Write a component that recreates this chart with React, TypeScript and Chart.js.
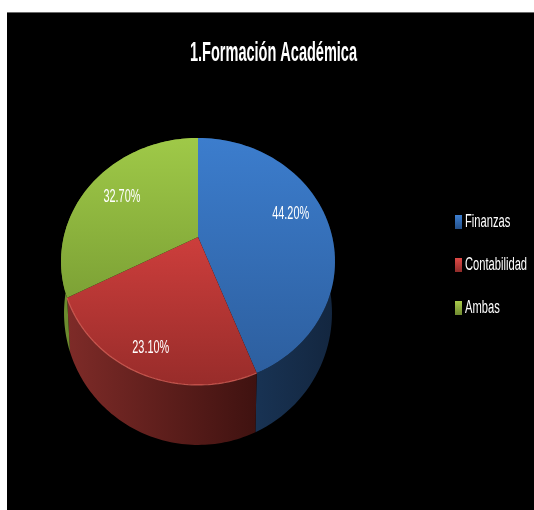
import React, { useEffect, useRef } from "react";
import { ArcElement, Chart, PieController, registerables } from "chart.js";

const categories = ["Finanzas", "Contabilidad", "Ambas"];
const shares = [44.2, 23.1, 32.7];
const faceTop = ["#3c7dcd", "#f04a48", "#9fc948"];
const faceBottom = ["#2c5d9c", "#982c2a", "#6a8c2b"];
const wallLeft = ["#1c3c62", "#7e2b28", "#6d8c2f"];
const wallRight = ["#13263f", "#3f1210", "#5f7a28"];
const keyTop = ["#3d7fd0", "#e04a47", "#aacb4b"];
const keyBottom = ["#24508a", "#8f2c2a", "#6f8a30"];

const PLOT = { left: 61, right: 335, top: 100, bottom: 374 };
const FONT = "'Liberation Sans', sans-serif";

// Perspective of the tilted disc: a circle of unit radius seen from the front.
const TILT = -0.198;
const WIDTH_K = 0.98;
const HEIGHT_K = 0.866;

// Squeezed lettering used for the title, legend and slice labels.
const TITLE_SPAN = { left: 190, right: 357 };
const KEY_SQUEEZE = 0.62;
const VALUE_WIDTH = 37;

type Pt = { x: number; y: number };

function rim(el: any, angle: number, r = 1): Pt {
  const u = r * Math.cos(angle);
  const v = r * Math.sin(angle);
  const den = 1 + TILT * v;
  return {
    x: el.x + (el.outerRadius * WIDTH_K * u) / den,
    y: el.y + (el.outerRadius * HEIGHT_K * v) / den,
  };
}

// The lower rim of the cylinder sits below the upper one and is a little narrower.
function lowerRim(el: any, p: Pt): Pt {
  const r = el.outerRadius;
  const midY = el.y + r * 0.1795;
  return {
    x: el.x + ((p.x - el.x) * 134) / 137,
    y: midY + r * 0.3759 + ((p.y - midY) * 132) / 123.5,
  };
}

function sweep(el: any): Pt[] {
  const steps = 72;
  const pts: Pt[] = [];
  for (let i = 0; i <= steps; i++) {
    pts.push(rim(el, el.startAngle + ((el.endAngle - el.startAngle) * i) / steps));
  }
  return pts;
}

class PerspectiveArc extends ArcElement {
  static id = "perspectiveArc";

  draw(ctx: CanvasRenderingContext2D) {
    const el: any = this;
    const { options } = el;
    ctx.save();
    ctx.beginPath();
    ctx.moveTo(el.x, el.y);
    sweep(el).forEach((p) => ctx.lineTo(p.x, p.y));
    ctx.closePath();
    ctx.fillStyle = options.backgroundColor;
    ctx.fill();
    ctx.restore();
  }
}

class PerspectivePie extends PieController {
  static id = "perspectivePie";
  static defaults = { dataElementType: "perspectiveArc" };

  draw() {
    const ctx = this.chart.ctx;
    const arcs: any[] = this.getMeta().data;
    arcs.forEach((el, i) => {
      const top = sweep(el);
      const bottom = top.map((p) => lowerRim(el, p)).reverse();
      const xs = top.map((p) => p.x);
      const g = ctx.createLinearGradient(Math.min(...xs), 0, Math.max(...xs), 0);
      g.addColorStop(0, wallLeft[i]);
      g.addColorStop(1, wallRight[i]);
      ctx.save();
      ctx.beginPath();
      [...top, ...bottom].forEach((p, k) => (k ? ctx.lineTo(p.x, p.y) : ctx.moveTo(p.x, p.y)));
      ctx.closePath();
      ctx.fillStyle = g;
      ctx.fill();
      ctx.restore();
    });
    super.draw();
  }
}

Chart.register(...registerables, PerspectiveArc, PerspectivePie);

const labelReach = [0.72, 0.84, 0.71];
const labelLift = [-8, 0, 0];

const stagePlugin = {
  id: "stage",
  afterLayout(chart: any) {
    const area = chart.chartArea;
    area.left = PLOT.left;
    area.right = PLOT.right;
    area.top = PLOT.top;
    area.bottom = PLOT.bottom;
    area.width = PLOT.right - PLOT.left;
    area.height = PLOT.bottom - PLOT.top;

    const title = chart.titleBlock;
    title.left = TITLE_SPAN.left;
    title.right = TITLE_SPAN.right;

    const legend = chart.legend;
    const h = legend.height;
    const w = legend.width;
    legend.left = 455 - chart.options.plugins.legend.labels.padding;
    legend.right = legend.left + w;
    legend.top = 265 - h / 2;
    legend.bottom = legend.top + h;

    // Legend text is condensed with the maxWidth argument of fillText.
    const paint = legend.draw;
    legend.draw = function (...args: any[]) {
      const { ctx } = chart;
      const fill = ctx.fillText;
      ctx.fillText = (t: string, x: number, y: number) =>
        fill.call(ctx, t, x - 6, y, ctx.measureText(t).width * KEY_SQUEEZE);
      paint.apply(this, args);
      delete ctx.fillText;
    };
  },
  beforeDraw(chart: any) {
    const { ctx, width, height } = chart;
    ctx.save();
    ctx.fillStyle = "#ffffff";
    ctx.fillRect(0, 0, width, height);
    ctx.fillStyle = "#000000";
    ctx.fillRect(7, 12, width - 7, height - 12);
    ctx.fillStyle = "#6b6b6b";
    ctx.fillRect(7, 12, width - 7, 1);
    ctx.restore();
  },
  afterDatasetsDraw(chart: any) {
    const { ctx } = chart;
    const arcs = chart.getDatasetMeta(0).data;
    ctx.save();
    // soft highlight along the front edge of the disc
    const red = arcs[1];
    ctx.beginPath();
    sweep(red).forEach((p, k) => (k ? ctx.lineTo(p.x, p.y) : ctx.moveTo(p.x, p.y)));
    ctx.strokeStyle = "rgba(232,110,100,0.7)";
    ctx.lineWidth = 1.2;
    ctx.stroke();
    ctx.fillStyle = "#ffffff";
    ctx.font = `19px ${FONT}`;
    ctx.textAlign = "center";
    ctx.textBaseline = "middle";
    arcs.forEach((el: any, i: number) => {
      const p = rim(el, (el.startAngle + el.endAngle) / 2, labelReach[i]);
      ctx.fillText(`${shares[i].toFixed(2)}%`, p.x, p.y + labelLift[i], VALUE_WIDTH);
    });
    ctx.restore();
  },
  afterDraw(chart: any) {
    // legend swatches carry the same top-to-bottom shading as the slices
    const { ctx } = chart;
    chart.legend.legendHitBoxes.forEach((box: any, i: number) => {
      const cy = box.top + box.height / 2;
      const g = ctx.createLinearGradient(0, cy - 7, 0, cy + 7);
      g.addColorStop(0, keyTop[i]);
      g.addColorStop(1, keyBottom[i]);
      ctx.save();
      ctx.fillStyle = g;
      ctx.fillRect(box.left, cy - 7, 7, 14);
      ctx.restore();
    });
  },
};

export default function App() {
  const ref = useRef<HTMLCanvasElement>(null);
  useEffect(() => {
    document.body.style.margin = "0";
    const canvas = ref.current!;
    const ctx = canvas.getContext("2d")!;
    const faces = shares.map((_, i) => {
      const g = ctx.createLinearGradient(0, 138, 0, 385);
      g.addColorStop(0, faceTop[i]);
      g.addColorStop(1, faceBottom[i]);
      return g;
    });
    const chart = new Chart(canvas, {
      type: "perspectivePie" as any,
      plugins: [stagePlugin],
      data: {
        labels: categories,
        datasets: [{ data: shares, backgroundColor: faces, borderWidth: 0 }],
      },
      options: {
        responsive: false,
        maintainAspectRatio: false,
        animation: false,
        layout: { padding: { left: 61, right: 48, top: 0, bottom: 136 } },
        plugins: {
          tooltip: { enabled: false },
          title: {
            display: true,
            text: "1.Formación Académica",
            color: "#ffffff",
            font: { family: FONT, size: 27, weight: "bold" },
            padding: { top: 37, bottom: 31 },
          },
          legend: {
            display: true,
            position: "right",
            labels: {
              color: "#ffffff",
              font: { family: FONT, size: 18 },
              boxWidth: 7,
              boxHeight: 13,
              padding: 25,
              generateLabels: () =>
                categories.map((text, i) => ({
                  text,
                  fillStyle: keyBottom[i],
                  strokeStyle: keyBottom[i],
                  lineWidth: 0,
                  fontColor: "#ffffff",
                  hidden: false,
                  index: i,
                })),
            },
          },
        },
      } as any,
    });
    return () => chart.destroy();
  }, []);
  return <canvas ref={ref} width={534} height={510} style={{ display: "block" }} />;
}
